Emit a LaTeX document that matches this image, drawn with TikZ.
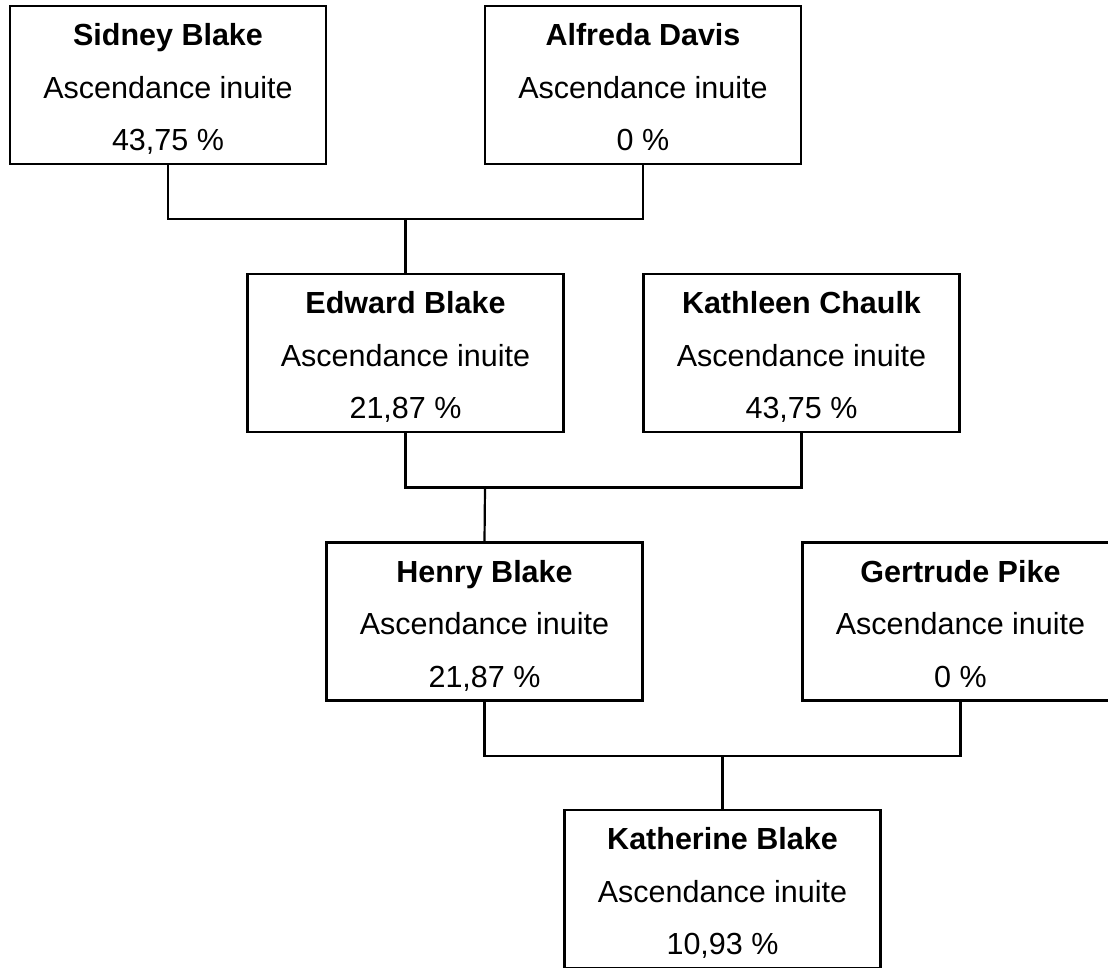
\documentclass[tikz,border=0pt]{standalone}
\usepackage{fontspec}
\setmainfont{Liberation Sans}
\newcommand\topstrut{\rule{0pt}{34pt}}
\newcommand\botstrut{\rule[-8pt]{0pt}{0pt}}
\begin{document}
\begin{tikzpicture}[x=1pt,y=1pt,
  person/.style={draw=black, line width=2.2pt, fill=white, minimum width=316pt, minimum height=158pt,
    inner sep=0pt, align=center, font=\fontsize{30.5}{52.5}\selectfont},
  link/.style={draw=black, line width=2.2pt}]
\useasboundingbox (0,0) rectangle (1108,-967);
\fill[white] (0,0) rectangle (1108,-967);
\clip (0,0) rectangle (1108,-967);
\node[person] (s) at (168,-85) {\topstrut\textbf{Sidney Blake}\\Ascendance inuite\\43,75 \%\botstrut};
\node[person] (a) at (643,-85) {\topstrut\textbf{Alfreda Davis}\\Ascendance inuite\\0 \%\botstrut};
\node[person] (e) at (405.5,-353) {\topstrut\textbf{Edward Blake}\\Ascendance inuite\\21,87 \%\botstrut};
\node[person] (k) at (801.5,-353) {\topstrut\textbf{Kathleen Chaulk}\\Ascendance inuite\\43,75 \%\botstrut};
\node[person] (h) at (484.5,-621.5) {\topstrut\textbf{Henry Blake}\\Ascendance inuite\\21,87 \%\botstrut};
\node[person] (g) at (960.5,-621.5) {\topstrut\textbf{Gertrude Pike}\\Ascendance inuite\\0 \%\botstrut};
\node[person] (kb) at (722.5,-889) {\topstrut\textbf{Katherine Blake}\\Ascendance inuite\\10,93 \%\botstrut};
\coordinate (j1) at (405.5,-219);
\coordinate (j2) at (485,-487.5);
\coordinate (j3) at (722.5,-756);
\draw[link] (s.south) |- (j1) -| (a.south);
\draw[link] (j1) -- (e.north);
\draw[link] (e.south) |- (j2) -| (k.south);
\draw[link] (j2) -- (h.north);
\draw[link] (h.south) |- (j3) -| (g.south);
\draw[link] (j3) -- (kb.north);
\end{tikzpicture}
\end{document}
